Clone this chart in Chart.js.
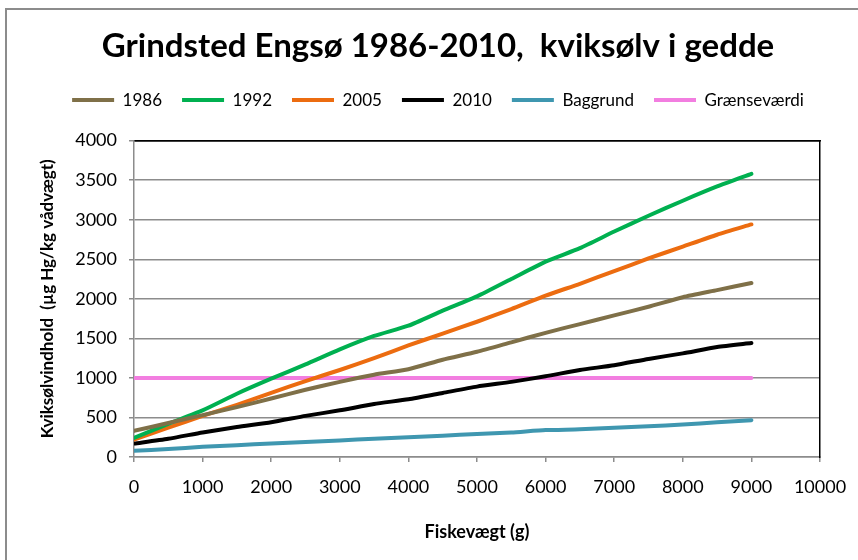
<!DOCTYPE html>
<html>
<head>
<meta charset="utf-8">
<script src="https://cdn.jsdelivr.net/npm/chart.js@4.4.1/dist/chart.umd.min.js"></script>
<style>
  html, body { margin: 0; padding: 0; background: #fff; overflow: hidden; }
  #ramme { position: absolute; left: 5px; top: 8px; width: 900px; height: 600px;
           border-left: 2px solid #8c8c8c; border-top: 2px solid #8c8c8c; }
  #graf { position: absolute; left: 0; top: 0; }
</style>
</head>
<body>
<div id="ramme"></div>
<canvas id="graf" width="876" height="560"></canvas>
<script>
// ===============================
// DATA
// ===============================
const fiskevaegt = [0, 500, 1000, 1500, 2000, 2500, 3000, 3500, 4000, 4500,
                    5000, 5500, 6000, 6500, 7000, 7500, 8000, 8500, 9000];

const aar1986 = [330, 430, 530, 630, 740, 850, 950, 1040, 1110, 1230,
                 1330, 1450, 1570, 1680, 1790, 1900, 2020, 2110, 2200];
const aar1992 = [240, 420, 590, 800, 990, 1170, 1360, 1530, 1660, 1850,
                 2030, 2250, 2470, 2640, 2850, 3050, 3240, 3420, 3580];
const aar2005 = [220, 370, 520, 660, 810, 960, 1100, 1250, 1410, 1560,
                 1710, 1870, 2040, 2190, 2350, 2510, 2660, 2810, 2940];
const aar2010 = [170, 230, 310, 380, 440, 520, 590, 670, 730, 810,
                 890, 950, 1020, 1100, 1160, 1240, 1310, 1390, 1440];
const baggrund = [80, 100, 130, 150, 170, 190, 210, 230, 250, 270,
                  290, 310, 340, 350, 370, 390, 410, 440, 465];
const graensevaerdi = [1000, 1000, 1000, 1000, 1000, 1000, 1000, 1000, 1000, 1000,
                       1000, 1000, 1000, 1000, 1000, 1000, 1000, 1000, 1000];

const yTicks = [0, 500, 1000, 1500, 2000, 2500, 3000, 3500, 4000];
const xTicks = [0, 1000, 2000, 3000, 4000, 5000, 6000, 7000, 8000, 9000, 10000];

// ===============================
// SERIER
// ===============================
const serier = [
    { navn: "1986", data: aar1986, farve: "#7f7048" },
    { navn: "1992", data: aar1992, farve: "#00b050" },
    { navn: "2005", data: aar2005, farve: "#ec6c10" },
    { navn: "2010", data: aar2010, farve: "#000000" },
    { navn: "Baggrund", data: baggrund, farve: "#3f97b0" },
    { navn: "Grænseværdi", data: graensevaerdi, farve: "#f27ee0" }
];

const datasets = serier.map(s => ({
    label: s.navn,
    data: fiskevaegt.map((w, i) => ({ x: w, y: s.data[i] })),
    borderColor: s.farve,
    backgroundColor: s.farve,
    borderWidth: 4,
    borderCapStyle: "round",
    borderJoinStyle: "round",
    pointRadius: 0,
    tension: 0.2,
    fill: false
}));

const font = "Lato, 'Open Sans', sans-serif";
const gridFarve = "#8c8c8c";

new Chart(document.getElementById("graf"), {
    type: "line",
    data: { datasets },
    options: {
        responsive: false,
        animation: false,
        layout: { padding: { left: 10, right: 10, top: 8, bottom: 8 } },
        plugins: {
            title: {
                display: true,
                text: "Grindsted Engsø 1986-2010,  kviksølv i gedde",
                color: "#000",
                font: { family: font, size: 33, weight: "bold" },
                padding: { top: 19, bottom: 5 }
            },
            legend: {
                display: true,
                labels: {
                    color: "#000",
                    font: { family: font, size: 17 },
                    usePointStyle: true,
                    pointStyle: "line",
                    pointStyleWidth: 42,
                    padding: 20
                }
            },
            tooltip: { enabled: false }
        },
        scales: {
            x: {
                type: "linear",
                position: "bottom",
                min: 0,
                max: 10000,
                afterBuildTicks: s => { s.ticks = xTicks.map(v => ({ value: v })); },
                afterFit: s => { s.height = 95; },
                ticks: {
                    color: "#000",
                    font: { family: font, size: 18 },
                    padding: 14,
                    maxRotation: 0,
                    callback: v => String(v)
                },
                grid: {
                    drawOnChartArea: false,
                    drawTicks: true,
                    tickLength: 5,
                    tickColor: gridFarve,
                    lineWidth: 1.5
                },
                border: { color: gridFarve, width: 1.5 },
                title: {
                    display: true,
                    text: "Fiskevægt (g)",
                    color: "#000",
                    font: { family: font, size: 18, weight: "bold" },
                    padding: { top: 0, bottom: 9 }
                }
            },
            xTop: {
                type: "linear",
                position: "top",
                min: 0,
                max: 10000,
                afterFit: s => { s.height = 22; },
                ticks: { display: false },
                grid: { display: false },
                border: { color: "#000", width: 1.5 }
            },
            y: {
                type: "linear",
                position: "left",
                min: 0,
                max: 4000,
                afterBuildTicks: s => { s.ticks = yTicks.map(v => ({ value: v })); },
                afterFit: s => { s.width = 124; },
                ticks: {
                    color: "#000",
                    font: { family: font, size: 18 },
                    padding: 12,
                    callback: v => String(v)
                },
                grid: {
                    color: c => (c.tick && c.tick.value === 4000 ? "#000" : gridFarve),
                    lineWidth: 1.5,
                    tickLength: 5,
                    tickColor: gridFarve
                },
                border: { color: gridFarve, width: 1.5 },
                title: {
                    display: true,
                    text: "Kviksølvindhold  (µg Hg/kg vådvægt)",
                    color: "#000",
                    font: { family: font, size: 17, weight: "bold" },
                    padding: { top: 27, bottom: 0 }
                }
            },
            yRight: {
                type: "linear",
                position: "right",
                min: 0,
                max: 4000,
                afterFit: s => { s.width = 46; },
                ticks: { display: false },
                grid: { display: false },
                border: { color: "#000", width: 1.5 }
            }
        }
    }
});
</script>
</body>
</html>
